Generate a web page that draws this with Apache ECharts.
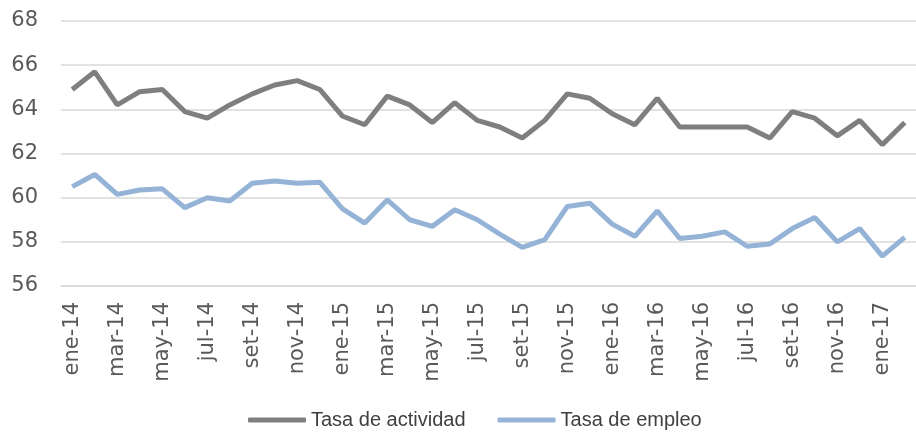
<!DOCTYPE html>
<html>
<head>
<meta charset="utf-8">
<script src="https://cdn.jsdelivr.net/npm/echarts@6/dist/echarts.min.js"></script>
<style>
html,body{margin:0;padding:0;background:#fff;}
#chart{width:916px;height:432px;}
</style>
</head>
<body>
<div id="chart"></div>
<script>
const months = ['ene','feb','mar','abr','may','jun','jul','ago','set','oct','nov','dic'];
const categories = [];
for (const yr of ['14','15','16']) for (const m of months) categories.push(m + '-' + yr);
categories.push('ene-17', 'feb-17');

const tasaActividad = [64.9, 65.7, 64.2, 64.8, 64.9, 63.9, 63.6, 64.2, 64.7, 65.1, 65.3, 64.9,
  63.7, 63.3, 64.6, 64.2, 63.4, 64.3, 63.5, 63.2, 62.7, 63.5, 64.7, 64.5,
  63.8, 63.3, 64.5, 63.2, 63.2, 63.2, 63.2, 62.7, 63.9, 63.6, 62.8, 63.5,
  62.4, 63.4];
const tasaEmpleo = [60.5, 61.05, 60.15, 60.35, 60.4, 59.55, 60.0, 59.85, 60.65, 60.75, 60.65, 60.7,
  59.5, 58.85, 59.9, 59.0, 58.7, 59.45, 59.0, 58.35, 57.75, 58.1, 59.6, 59.75,
  58.8, 58.25, 59.4, 58.15, 58.25, 58.45, 57.8, 57.9, 58.6, 59.1, 58.0, 58.6,
  57.35, 58.2];

const yMin = 56, yMax = 68, yStep = 2;
const seriesNames = ['Tasa de actividad', 'Tasa de empleo'];
const colors = ['#7f7f7f', '#95b3d7'];

const chart = echarts.init(document.getElementById('chart'));
chart.setOption({
  animation: false,
  backgroundColor: '#ffffff',
  grid: { left: 61, top: 21, width: 864, height: 265 },
  legend: {
    data: seriesNames,
    left: 243,
    top: 405,
    itemGap: 32,
    itemWidth: 58,
    itemHeight: 5,
    icon: 'roundRect',
    textStyle: { fontFamily: 'Liberation Sans', fontSize: 20, color: '#404040', lineHeight: 20 }
  },
  xAxis: {
    type: 'category',
    data: categories,
    boundaryGap: true,
    axisLine: { lineStyle: { color: '#d9d9d9', width: 1.5 } },
    axisTick: { interval: 1, length: 7, lineStyle: { color: '#d9d9d9', width: 1.5 } },
    axisLabel: {
      interval: 1, rotate: 90, margin: 16,
      fontFamily: 'DejaVu Sans', fontSize: 21, color: '#595959'
    }
  },
  yAxis: {
    type: 'value',
    min: yMin, max: yMax, interval: yStep,
    axisLine: { show: false },
    axisTick: { show: false },
    splitLine: { lineStyle: { color: '#d9d9d9', width: 1.5 } },
    axisLabel: { margin: 23, fontFamily: 'DejaVu Sans', fontSize: 21, color: '#595959' }
  },
  series: [
    { name: seriesNames[0], type: 'line', data: tasaActividad, symbol: 'none',
      color: colors[0], lineStyle: { width: 5, color: colors[0] } },
    { name: seriesNames[1], type: 'line', data: tasaEmpleo, symbol: 'none',
      color: colors[1], lineStyle: { width: 5, color: colors[1] } }
  ]
});
</script>
</body>
</html>
